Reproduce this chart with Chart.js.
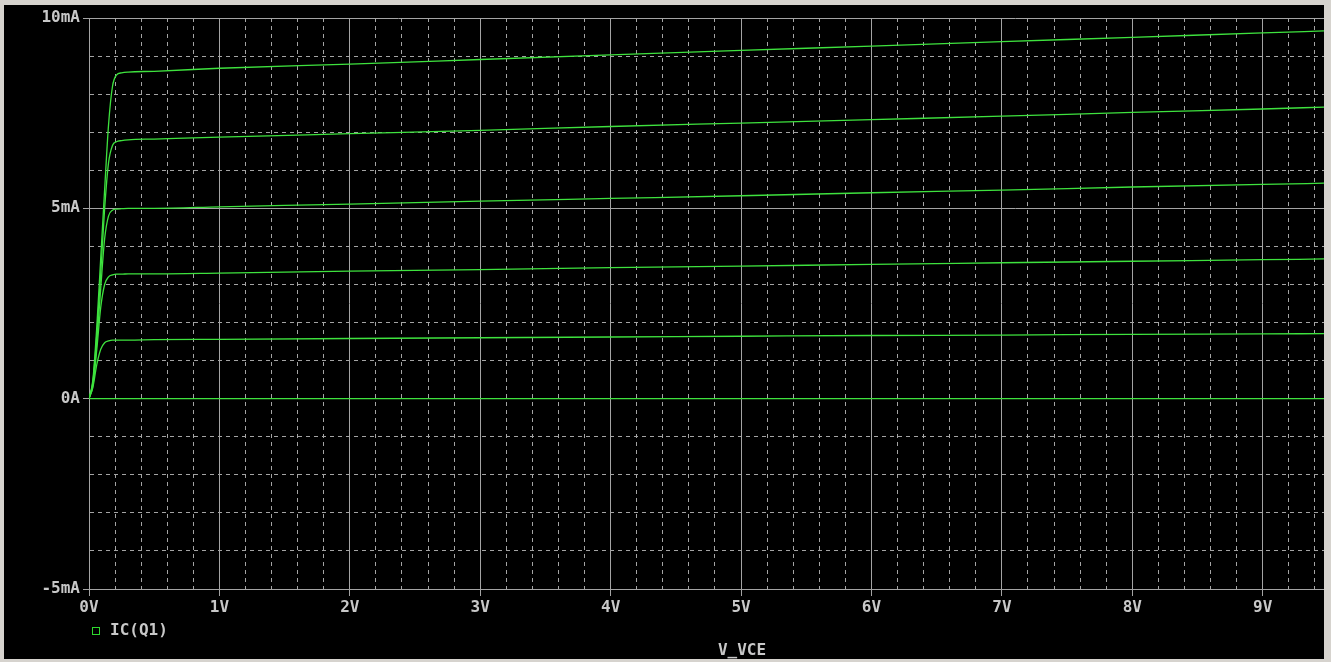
<!DOCTYPE html>
<html>
<head>
<meta charset="utf-8">
<script src="https://cdn.jsdelivr.net/npm/chart.js@4.4.1/dist/chart.umd.min.js"></script>
<style>
  html, body { margin: 0; padding: 0; background: #d6d3ce; overflow: hidden; }
  #plot { position: absolute; left: 4px; top: 5px; width: 1320px; height: 654px; background: #000; }
  #plot canvas { position: absolute; left: 0; top: 0; }
  .lbl { position: absolute; color: #c8c8c8; font: bold 16px "DejaVu Sans Mono", monospace; line-height: 16px; white-space: nowrap; }
  #legendBox { position: absolute; left: 88px; top: 622px; width: 6px; height: 6px; border: 1px solid #2ed82e; }
</style>
</head>
<body>
<div id="plot">
  <canvas id="icChart" width="1320" height="654"></canvas>
  <div id="legendBox"></div>
  <div class="lbl" style="left:106px; top:617px;">IC(Q1)</div>
  <div class="lbl" style="left:688px; top:637px; width:100px; text-align:center;">V_VCE</div>
</div>
<script>
// V_CE sweep points (volts)
const vce = [0, 0.03, 0.06, 0.09, 0.12, 0.15, 0.18, 0.21, 0.25, 0.3, 0.5, 1, 2, 3, 4, 5, 6, 7, 8, 9, 9.47];

// collector current per base step (mA)
const ic1 = [0, 0.5, 1.9, 3.7, 5.5, 7.2, 8.2, 8.5, 8.56, 8.58, 8.6, 8.68, 8.79, 8.91, 9.03, 9.15, 9.26, 9.38, 9.49, 9.61, 9.66];
const ic2 = [0, 0.45, 1.7, 3.3, 5.0, 6.2, 6.65, 6.75, 6.78, 6.8, 6.82, 6.87, 6.96, 7.05, 7.15, 7.24, 7.33, 7.42, 7.52, 7.61, 7.66];
const ic3 = [0, 0.4, 1.5, 2.9, 4.2, 4.8, 4.95, 4.98, 4.99, 5.0, 5.0, 5.04, 5.11, 5.19, 5.26, 5.33, 5.41, 5.48, 5.56, 5.63, 5.66];
const ic4 = [0, 0.35, 1.3, 2.4, 3.0, 3.2, 3.25, 3.27, 3.27, 3.28, 3.28, 3.30, 3.35, 3.39, 3.44, 3.48, 3.53, 3.57, 3.61, 3.65, 3.67];
const ic5 = [0, 0.3, 0.9, 1.3, 1.47, 1.52, 1.54, 1.54, 1.54, 1.54, 1.55, 1.56, 1.58, 1.60, 1.62, 1.64, 1.66, 1.67, 1.69, 1.70, 1.71];
const ic6 = [0, 0, 0, 0, 0, 0, 0, 0, 0, 0, 0, 0, 0, 0, 0, 0, 0, 0, 0, 0, 0];

// axis ticks
const xMajorTicks = [0, 1, 2, 3, 4, 5, 6, 7, 8, 9];
const yMajorTicks = [-5, 0, 5, 10];
const yTickLabels = ['-5mA', '0A', '5mA', '10mA'];

let xGridTicks = [];
for (let i = 0; i <= 47; i++) xGridTicks.push(i / 5);
let yGridTicks = [];
for (let v = -5; v <= 10; v++) yGridTicks.push(v);

const isMajorX = v => xMajorTicks.some(m => Math.abs(m - v) < 1e-6);
const isMajorY = v => yMajorTicks.includes(v);

const gridGray = '#a4a4a4';
const curveGreen = '#3ee23e';
const tickFont = { family: '"DejaVu Sans Mono", monospace', size: 16, weight: 'bold' };

const datasets = [ic1, ic2, ic3, ic4, ic5, ic6].map(arr => ({
    label: 'IC(Q1)',
    data: vce.map((v, i) => ({ x: v, y: arr[i] })),
    borderColor: curveGreen,
    borderWidth: 1.3,
    pointRadius: 0,
    cubicInterpolationMode: 'monotone',
    fill: false
}));

new Chart(document.getElementById('icChart').getContext('2d'), {
    type: 'line',
    data: { datasets: datasets },
    options: {
        responsive: false,
        animation: false,
        devicePixelRatio: 1,
        layout: { padding: { top: 13, left: 0, right: 0, bottom: 0 } },
        plugins: { legend: { display: false }, tooltip: { enabled: false } },
        scales: {
            x: {
                type: 'linear',
                min: 0,
                max: 9.47,
                afterBuildTicks: s => { s.ticks = xGridTicks.map(v => ({ value: v })); },
                afterFit: s => { s.height = 70; },
                ticks: {
                    autoSkip: false,
                    maxRotation: 0,
                    padding: 2,
                    color: '#c8c8c8',
                    font: tickFont,
                    callback: v => isMajorX(v) ? Math.round(v) + 'V' : ''
                },
                grid: {
                    color: gridGray,
                    lineWidth: 1,
                    tickLength: 7,
                    tickColor: ctx => (ctx.tick && isMajorX(ctx.tick.value)) ? gridGray : 'rgba(0,0,0,0)'
                },
                border: {
                    color: gridGray,
                    width: 1,
                    dash: ctx => (ctx.tick && !isMajorX(ctx.tick.value)) ? [4, 4] : []
                }
            },
            y: {
                min: -5,
                max: 10,
                afterBuildTicks: s => { s.ticks = yGridTicks.map(v => ({ value: v })); },
                afterFit: s => { s.width = 85; },
                ticks: {
                    autoSkip: false,
                    padding: 3,
                    color: '#c8c8c8',
                    font: tickFont,
                    callback: v => isMajorY(v) ? yTickLabels[yMajorTicks.indexOf(v)] : ''
                },
                grid: {
                    color: gridGray,
                    lineWidth: 1,
                    tickLength: 6,
                    tickColor: ctx => (ctx.tick && isMajorY(ctx.tick.value)) ? gridGray : 'rgba(0,0,0,0)'
                },
                border: {
                    color: gridGray,
                    width: 1,
                    dash: ctx => (ctx.tick && !isMajorY(ctx.tick.value)) ? [4, 4] : []
                }
            }
        }
    }
});
</script>
</body>
</html>
